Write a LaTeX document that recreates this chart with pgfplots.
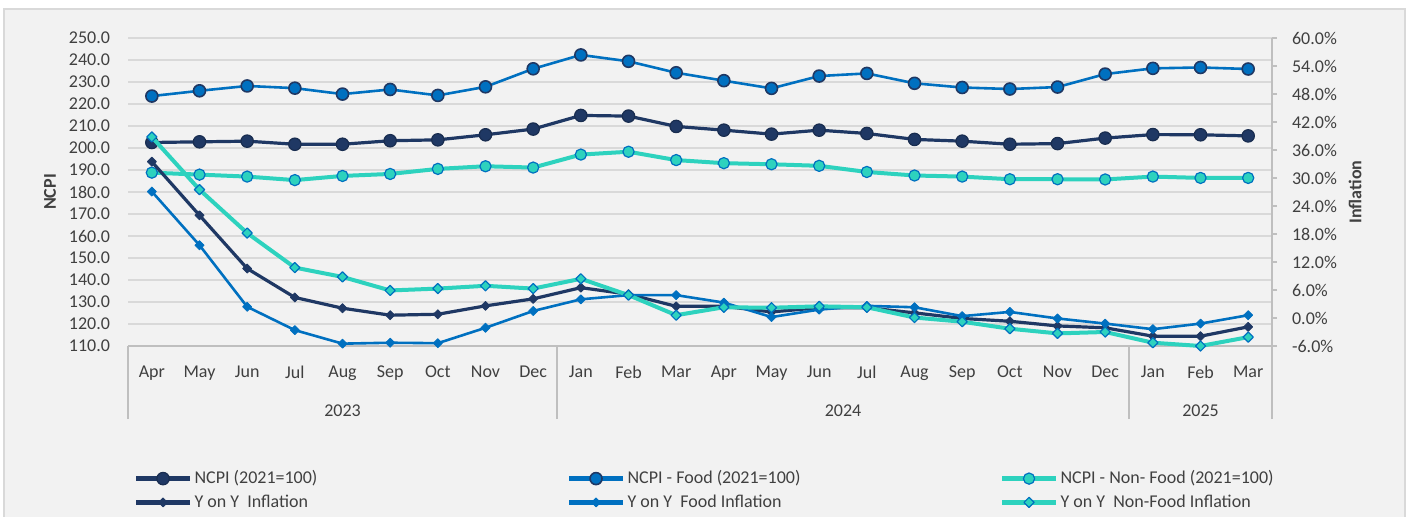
\documentclass[border=0pt]{standalone}
\usepackage{fontspec}
\setmainfont{Carlito}
\usepackage{pgfplots}
\usepackage{pgfplotstable}
\pgfplotsset{compat=1.18}
\definecolor{navy}{HTML}{1F3864}
\definecolor{fblue}{HTML}{0070C0}
\definecolor{turq}{HTML}{2DD2BE}
\definecolor{gridc}{HTML}{D9D9D9}
\definecolor{axc}{HTML}{BFBFBF}
\definecolor{txt}{HTML}{404040}
\definecolor{bg}{HTML}{F2F2F2}

\pgfplotstableread{
x ncpi food nonfood
0 202.5 223.6 188.8
1 202.8 226.0 187.9
2 203.1 228.2 187.0
3 201.7 227.2 185.4
4 201.7 224.5 187.3
5 203.3 226.6 188.2
6 203.7 223.9 190.5
7 206.0 227.8 191.7
8 208.6 236.0 191.1
9 214.8 242.3 197.0
10 214.5 239.4 198.3
11 209.8 234.2 194.5
12 208.1 230.6 193.1
13 206.3 227.1 192.6
14 208.1 232.7 191.9
15 206.6 233.9 189.1
16 203.9 229.4 187.5
17 203.1 227.5 187.0
18 201.7 226.8 185.8
19 202.0 227.7 185.8
20 204.5 233.6 185.7
21 206.1 236.2 187.0
22 206.0 236.6 186.4
23 205.5 235.9 186.4
}\ncpidata

\pgfplotstableread{
x yoy food nonfood
0 33.5 27.1 38.8
1 22.0 15.6 27.5
2 10.6 2.4 18.2
3 4.4 -2.6 10.8
4 2.1 -5.5 8.8
5 0.6 -5.3 5.9
6 0.8 -5.4 6.3
7 2.6 -2.1 6.9
8 4.1 1.5 6.3
9 6.5 4.0 8.4
10 5.1 4.9 4.9
11 2.5 4.9 0.6
12 2.5 3.3 2.3
13 1.3 0.2 2.2
14 2.2 1.8 2.5
15 2.2 2.6 2.3
16 1.1 2.3 0.1
17 -0.1 0.4 -0.8
18 -0.7 1.3 -2.3
19 -1.7 -0.1 -3.3
20 -2.1 -1.2 -3.0
21 -3.9 -2.4 -5.3
22 -3.9 -1.2 -6.0
23 -1.9 0.6 -4.1
}\infdata

\pgfplotsset{
  ncpistyle/.style={navy, line width=1.6pt, line join=round, mark=*, mark size=3.1pt, mark options={solid, fill=navy, draw=navy!80!black, line width=0.6pt}},
  foodstyle/.style={fblue, line width=1.3pt, line join=round, mark=*, mark size=3pt, mark options={solid, fill=fblue, draw=navy, line width=0.8pt}},
  nonfoodstyle/.style={turq, line width=2pt, line join=round, mark=*, mark size=2.8pt, mark options={solid, fill=turq, draw=fblue, line width=0.6pt}},
  yoystyle/.style={navy, line width=1.6pt, line join=round, mark=square*, mark size=1.6pt, mark options={solid, rotate=45, fill=navy, draw=navy, line width=0.4pt}},
  yoyfoodstyle/.style={fblue, line width=1.3pt, line join=round, mark=square*, mark size=1.6pt, mark options={solid, rotate=45, fill=fblue, draw=fblue, line width=0.4pt}},
  yoynonfoodstyle/.style={turq, line width=2pt, line join=round, mark=square*, mark size=1.8pt, mark options={solid, rotate=45, fill=turq, draw=fblue, line width=0.6pt}},
  common/.style={
    at={(64pt,85.5pt)}, anchor=south west,
    scale only axis, width=572pt, height=154pt,
    xmin=-0.5, xmax=23.5,
    clip=false,
    tick label style={font=\fontsize{9}{10.8}\selectfont, text=txt},
    label style={font=\bfseries\fontsize{9}{10.8}\selectfont, text=txt},
    /pgf/number format/assume math mode=true,
  },
}

\begin{document}
\begin{tikzpicture}
\useasboundingbox (0,0) rectangle (705.5pt,258.5pt);
\fill[bg] (2pt,0pt) rectangle (702.5pt,254pt);
\draw[gridc, line width=0.6pt] (2pt,-1pt) -- (2pt,254pt) -- (702.5pt,254pt) -- (702.5pt,-1pt);

\begin{axis}[
  common,
  ymin=110, ymax=250, ytick={110,120,...,250},
  axis x line*=bottom, axis y line*=left,
  y axis line style={draw=none},
  x axis line style={axc, line width=0.75pt},
  ymajorgrids, major grid style={gridc, line width=0.75pt},
  major tick length=0pt, minor tick length=36.5pt, tick align=outside,
  minor xtick={-0.5,8.5,20.5,23.5},
  minor tick style={axc, line width=0.75pt},
  xtick={0,...,23},
  xticklabels={Apr,May,Jun,Jul,Aug,Sep,Oct,Nov,Dec,Jan,Feb,Mar,Apr,May,Jun,Jul,Aug,Sep,Oct,Nov,Dec,Jan,Feb,Mar},
  xticklabel style={yshift=-6.3pt},
  yticklabel style={xshift=-5.5pt, /pgf/number format/.cd, fixed, fixed zerofill, precision=1, /tikz/.cd},
  ylabel={NCPI},
  ylabel style={at={(axis description cs:-0.0682,0.5)}, anchor=center},
  legend columns=3,
  legend cell align=left,
  legend image code/.code={\draw[mark repeat=2, mark phase=2, #1, line width=2.5pt] plot coordinates {(0pt,0pt) (13.5pt,0pt) (27pt,0pt)};},
  legend style={at={(axis description cs:0.0045,-0.39)}, anchor=north west, draw=none, fill=none, inner sep=0pt, column sep=0pt, row sep=0pt, nodes={inner xsep=1pt, inner ysep=2pt, text=txt}, font=\fontsize{9}{10.8}\selectfont},
]
\addplot[ncpistyle] table[x=x, y=ncpi]{\ncpidata};
\addlegendentry{\makebox[185pt][l]{NCPI (2021=100)}}
\addplot[foodstyle] table[x=x, y=food]{\ncpidata};
\addlegendentry{\makebox[185pt][l]{NCPI - Food (2021=100)}}
\addplot[nonfoodstyle] table[x=x, y=nonfood]{\ncpidata};
\addlegendentry{\makebox[185pt][l]{NCPI - Non- Food (2021=100)}}
\addlegendimage{yoystyle}
\addlegendentry{\makebox[185pt][l]{Y on Y\ \ Inflation}}
\addlegendimage{yoyfoodstyle}
\addlegendentry{\makebox[185pt][l]{Y on Y\ \ Food Inflation}}
\addlegendimage{yoynonfoodstyle}
\addlegendentry{\makebox[185pt][l]{Y on Y\ \ Non-Food Inflation}}
\end{axis}

\begin{axis}[
  common,
  ymin=-6, ymax=60, ytick={-6,0,...,60},
  axis x line*=bottom, axis y line*=right,
  x axis line style={draw=none},
  y axis line style={axc, line width=0.75pt},
  xtick={4,14.5,22}, xticklabels={2023,2024,2025},
  xtick style={draw=none},
  xticklabel style={yshift=-23.3pt},
  major tick length=2.5pt, tick align=outside,
  ytick style={axc, line width=0.75pt},
  yticklabel={\pgfmathprintnumber[fixed,fixed zerofill,precision=1,assume math mode=true]{\tick}\%},
  yticklabel style={xshift=4pt},
  ylabel={Inflation},
  ylabel style={at={(axis description cs:1.0726,0.5)}, anchor=center},
]
\addplot[yoystyle] table[x=x, y=yoy]{\infdata};
\addplot[yoyfoodstyle] table[x=x, y=food]{\infdata};
\addplot[yoynonfoodstyle] table[x=x, y=nonfood]{\infdata};
\end{axis}
\end{tikzpicture}
\end{document}
